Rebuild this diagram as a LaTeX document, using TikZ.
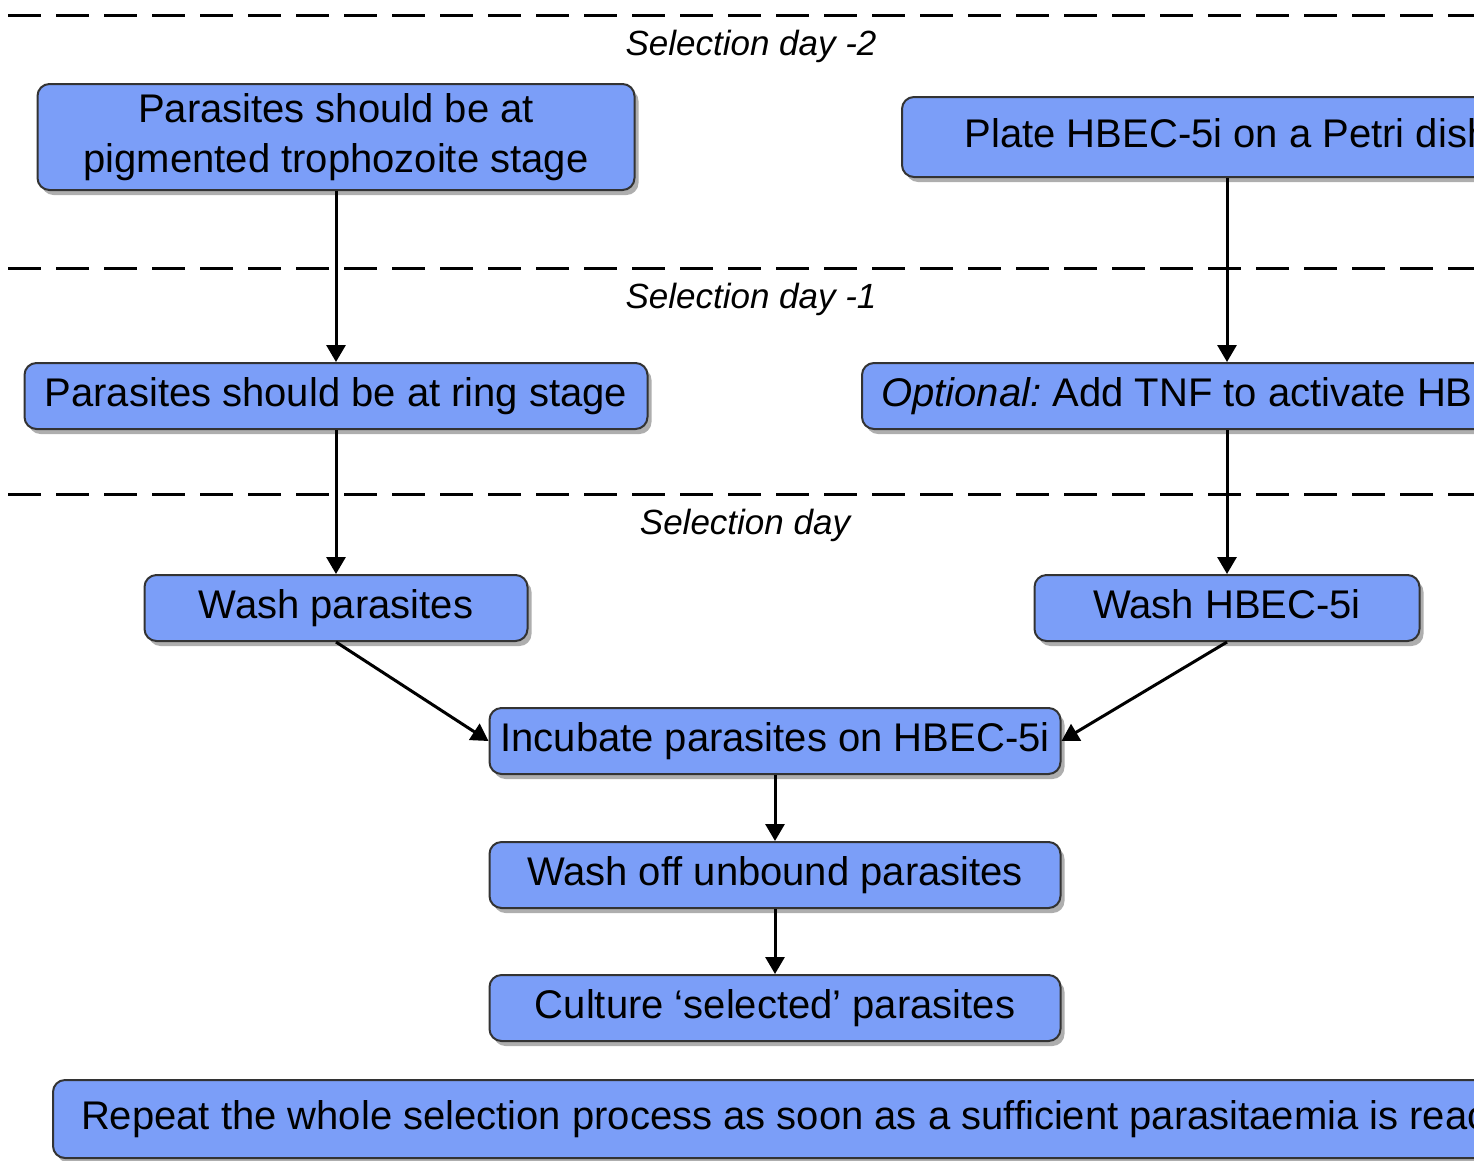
\documentclass[tikz,border=0pt]{standalone}
\usepackage{fontspec}
\setmainfont{Liberation Sans}
\usetikzlibrary{arrows.meta,shadows}
\definecolor{boxblue}{HTML}{7B9EF8}
\frenchspacing
\tikzset{
  stepbox/.style={draw=black!80, line width=2pt, fill=boxblue, rounded corners=12pt,
    inner sep=0pt, font=\fontsize{40}{50}\selectfont, text height=29pt, text depth=9pt,
    minimum height=66pt,
    drop shadow={shadow xshift=4pt, shadow yshift=-5pt, opacity=.45, fill=black!70}},
  daylabel/.style={font=\fontsize{35}{40}\selectfont\itshape},
  dayline/.style={line width=3pt, dash pattern=on 33pt off 15pt},
  flow/.style={line width=3pt, -{Triangle[length=17pt,width=19pt]}}
}
\begin{document}
\begin{tikzpicture}[x=1pt,y=-1pt]
\useasboundingbox (0,0) rectangle (1474,1160);
\clip (0,0) rectangle (1474,1160);
%-------->day lines<--------------
\draw [dayline] (8,15) -- (1474,15);
\draw [dayline] (8,268) -- (1474,268);
\draw [dayline] (8,494) -- (1474,494);
\node [daylabel] (d2) at (751,46) {Selection day -2};
\node [daylabel] (d1) at (751,299) {Selection day -1};
\node [daylabel] (d0) at (745,525) {Selection day};
%-------->nodes<--------------
\node [stepbox, minimum width=597pt, minimum height=106pt, align=center, text height={}, text depth={}] (troph) at (336,137) {Parasites should be at\\pigmented trophozoite stage}; % day -2
\node [stepbox, minimum width=650pt, minimum height=80pt] (plate) at (1227,137) {Plate HBEC-5i on a Petri dish};
\node [stepbox, minimum width=623pt] (ring) at (336,396) {Parasites should be at ring stage}; % day -1
\node [stepbox, minimum width=730pt] (tnf) at (1227,396) {\textit{Optional:} Add TNF to activate HBEC-5i};
\node [stepbox, minimum width=383pt] (washp) at (336,608) {Wash parasites}; % selection day
\node [stepbox, minimum width=385pt] (washh) at (1227,608) {Wash HBEC-5i};
\node [stepbox, minimum width=571pt] (incub) at (775,741) {Incubate parasites on HBEC-5i};
\node [stepbox, minimum width=571pt] (washoff) at (775,875) {Wash off unbound parasites};
\node [stepbox, minimum width=571pt] (culture) at (775,1008) {Culture `selected' parasites};
\node [stepbox, anchor=west, minimum height=78pt, inner xsep=28pt] (repeat) at (52,1119) {Repeat the whole selection process as soon as a sufficient parasitaemia is reached};
%------------->arrows<------------------
\draw [flow] (troph) -- (ring);
\draw [flow] (ring) -- (washp);
\draw [flow] (plate) -- (tnf);
\draw [flow] (tnf) -- (washh);
\draw [flow] (washp.south) -- (incub.west);
\draw [flow] (washh.south) -- (incub.east);
\draw [flow] (incub) -- (washoff);
\draw [flow] (washoff) -- (culture);
\end{tikzpicture}
\end{document}
